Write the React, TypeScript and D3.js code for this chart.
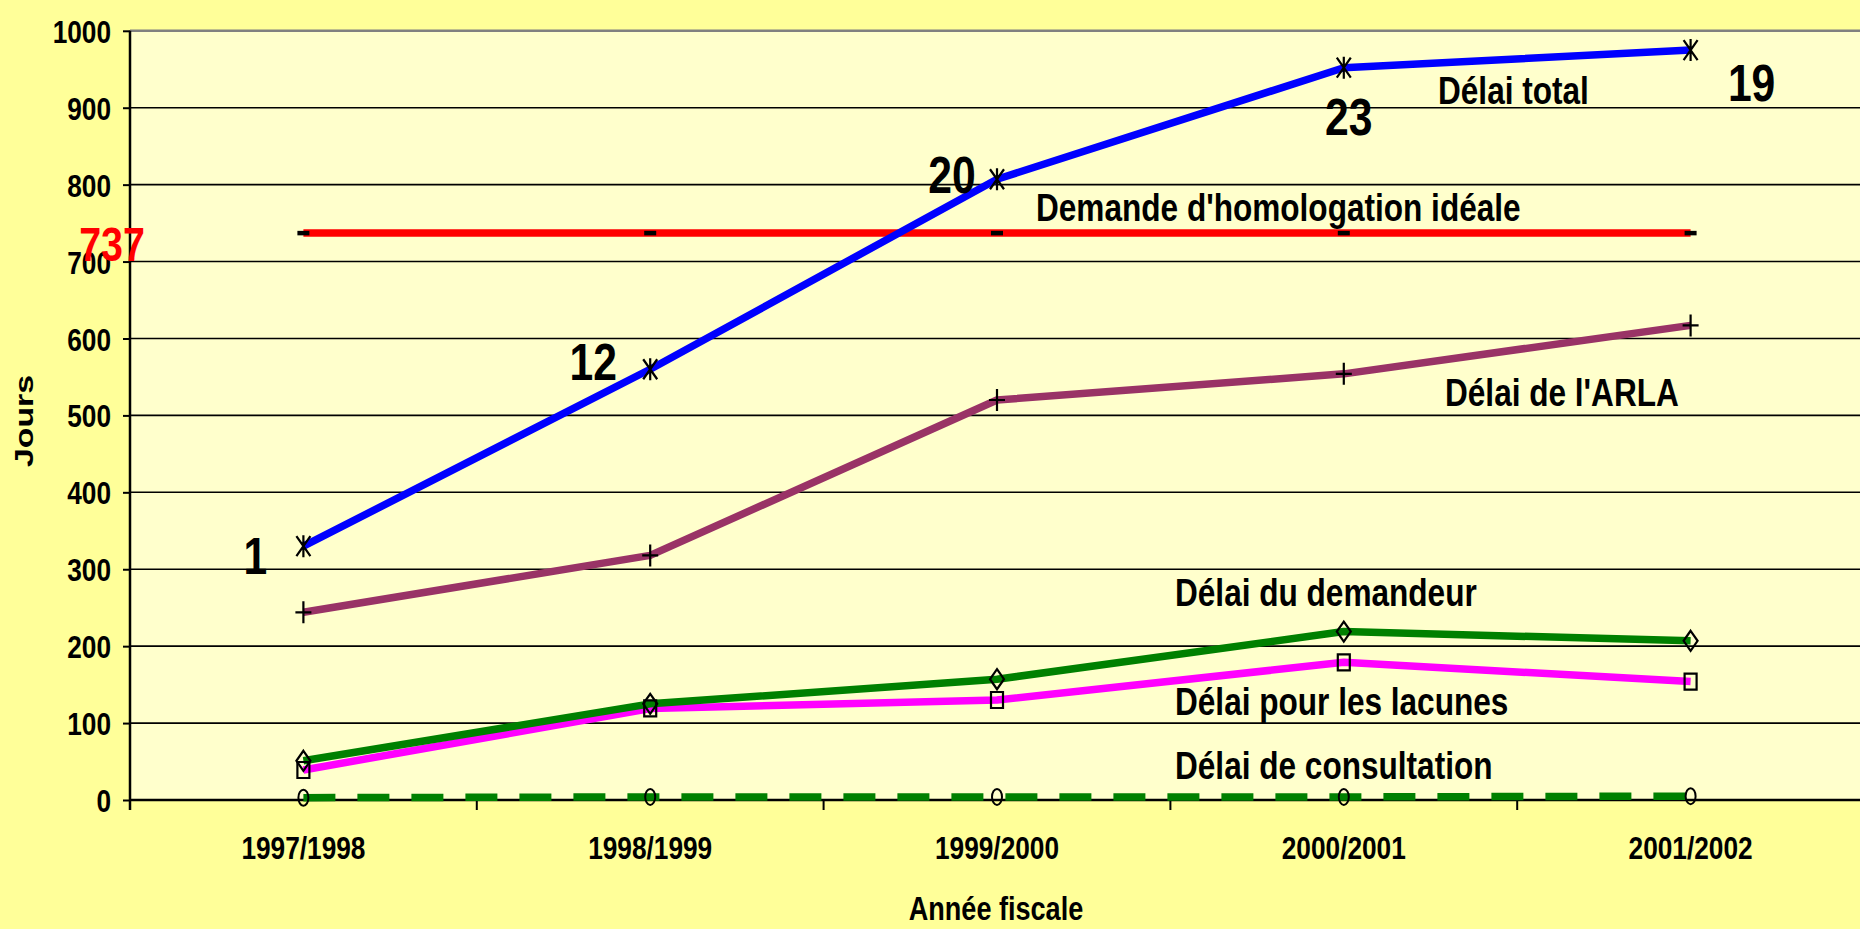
import { useEffect, useRef } from "react";
import * as d3 from "d3";

// fiscal years on the category axis
const categories = ["1997/1998", "1998/1999", "1999/2000", "2000/2001", "2001/2002"];
const yTicks = [0, 100, 200, 300, 400, 500, 600, 700, 800, 900, 1000];

// jours
const delaiTotal = [330, 560, 807, 952, 975];
const ideale = [737, 737, 737, 737, 737];
const delaiArla = [244, 318, 520, 554, 617];
const delaiDemandeur = [51, 125, 157, 219, 207];
const delaiLacunes = [39, 119, 130, 179, 154];
const delaiConsultation = [3, 4, 4, 4, 5];

// counts written next to the total line
const totalCounts = ["1", "12", "20", "23", "19"];
const idealeLabel = "737";

const W = 1860;
const H = 929;
const FONT = "'Liberation Sans', Arial, sans-serif";
const NARROW = 0.82; // no narrow face installed, squeeze the glyphs instead

export default function App() {
  const svgRef = useRef<SVGSVGElement>(null);

  useEffect(() => {
    const svg = d3.select(svgRef.current);
    svg.selectAll("*").remove();

    const left = 130, top = 30.8, bottom = 800;
    const x = d3.scaleBand().domain(categories).range([left, left + 346.8 * 5]).padding(0);
    const y = d3.scaleLinear().domain([0, 1000]).range([bottom, top]);
    const cx = (i: number) => x(categories[i])! + x.bandwidth() / 2;

    svg.append("rect").attr("width", W).attr("height", H).attr("fill", "#ffff99");
    svg.append("rect")
      .attr("x", left).attr("y", top)
      .attr("width", W - left).attr("height", bottom - top)
      .attr("fill", "#ffffcc");

    // grid
    svg.append("g").selectAll("line")
      .data(yTicks.filter((t) => t > 0))
      .join("line")
      .attr("x1", left).attr("x2", W)
      .attr("y1", (d) => y(d)).attr("y2", (d) => y(d))
      .attr("stroke", (d) => (d === 1000 ? "#808080" : "#000"))
      .attr("stroke-width", (d) => (d === 1000 ? 2.5 : 1.6));

    // y axis
    const yAxis = d3.axisLeft(y).tickValues(yTicks).tickFormat(d3.format("d")).tickSize(7).tickPadding(12);
    const gy = svg.append("g").attr("transform", `translate(${left},0)`).call(yAxis);
    gy.select(".domain").remove();
    gy.selectAll("line").attr("stroke", "#000").attr("stroke-width", 2);
    gy.selectAll("text")
      .attr("class", "narrow")
      .attr("font-family", FONT).attr("font-weight", "bold")
      .attr("font-size", 32).attr("fill", "#000").attr("dy", "0.36em");
    svg.append("line")
      .attr("x1", left).attr("x2", left).attr("y1", top).attr("y2", bottom + 10)
      .attr("stroke", "#000").attr("stroke-width", 2.5);

    // x axis
    svg.append("line")
      .attr("x1", left).attr("x2", W).attr("y1", bottom).attr("y2", bottom)
      .attr("stroke", "#000").attr("stroke-width", 2.5);
    svg.append("g").selectAll("line")
      .data(categories.slice(1))
      .join("line")
      .attr("x1", (d) => x(d)!).attr("x2", (d) => x(d)!)
      .attr("y1", bottom).attr("y2", bottom + 10)
      .attr("stroke", "#000").attr("stroke-width", 2);
    svg.append("g").selectAll("text")
      .data(categories)
      .join("text")
      .attr("class", "narrow")
      .attr("x", (d, i) => cx(i)).attr("y", 859)
      .attr("text-anchor", "middle")
      .attr("font-family", FONT).attr("font-weight", "bold").attr("font-size", 32)
      .text((d) => d);

    svg.append("text")
      .attr("class", "narrow")
      .attr("x", 996).attr("y", 920)
      .attr("text-anchor", "middle")
      .attr("font-family", FONT).attr("font-weight", "bold").attr("font-size", 33)
      .text("Année fiscale");
    svg.append("text")
      .attr("transform", "translate(33,421) rotate(-90)")
      .attr("text-anchor", "middle")
      .attr("font-family", FONT)
      .attr("font-weight", "bold").attr("font-size", 25)
      .attr("textLength", 92).attr("lengthAdjust", "spacingAndGlyphs")
      .text("Jours");

    const line = d3.line<number>().x((d, i) => cx(i)).y((d) => y(d));
    const series = [
      { values: delaiConsultation, color: "#008000", dash: "32 22", marker: "circle" },
      { values: delaiLacunes, color: "#ff00ff", dash: null, marker: "square" },
      { values: delaiDemandeur, color: "#008000", dash: null, marker: "diamond" },
      { values: delaiArla, color: "#993366", dash: null, marker: "plus" },
      { values: ideale, color: "#ff0000", dash: null, marker: "dash" },
      { values: delaiTotal, color: "#0000ff", dash: null, marker: "star" },
    ];

    series.forEach((s) => {
      svg.append("path")
        .attr("d", line(s.values))
        .attr("fill", "none")
        .attr("stroke", s.color)
        .attr("stroke-width", 7.5)
        .attr("stroke-dasharray", s.dash)
        .attr("stroke-linejoin", "round");
    });

    const markerPath = (m: string) => {
      switch (m) {
        case "star": return "M0,-11V11M-7,-10L7,10M-7,10L7,-10";
        case "plus": return "M-8,0H8M0,-11V11";
        case "diamond": return "M0,-10L7,0L0,10L-7,0Z";
        case "square": return "M-6,-8H6V8H-6Z";
        case "dash": return "M-6,0H6";
        default: return "";
      }
    };
    series.forEach((s) => {
      const g = svg.append("g");
      if (s.marker === "circle") {
        g.selectAll("ellipse").data(s.values).join("ellipse")
          .attr("cx", (d, i) => cx(i)).attr("cy", (d) => y(d))
          .attr("rx", 5).attr("ry", 8)
          .attr("fill", "none").attr("stroke", "#000").attr("stroke-width", 2);
      } else {
        g.selectAll("path").data(s.values).join("path")
          .attr("transform", (d, i) => `translate(${cx(i)},${y(d)})`)
          .attr("d", markerPath(s.marker))
          .attr("fill", "none").attr("stroke", "#000")
          .attr("stroke-width", s.marker === "dash" ? 4.5 : 2.2);
      }
    });

    // counts beside the total line
    const countOffsets = [[-48, 28], [-57, 11], [-45, 14], [5, 67], [61, 51]];
    svg.append("g").selectAll("text")
      .data(totalCounts)
      .join("text")
      .attr("class", "narrow")
      .attr("x", (d, i) => cx(i) + countOffsets[i][0])
      .attr("y", (d, i) => y(delaiTotal[i]) + countOffsets[i][1])
      .attr("text-anchor", "middle")
      .attr("font-family", FONT).attr("font-weight", "bold").attr("font-size", 52)
      .text((d) => d);

    svg.append("text")
      .attr("class", "narrow")
      .attr("x", 112).attr("y", y(ideale[0]) + 28)
      .attr("text-anchor", "middle")
      .attr("font-family", FONT).attr("font-weight", "bold").attr("font-size", 48)
      .attr("fill", "#ff0000")
      .text(idealeLabel);

    // series names
    const names = [
      { text: "Délai total", x: 1438, y: 104 },
      { text: "Demande d'homologation idéale", x: 1036, y: 221 },
      { text: "Délai de l'ARLA", x: 1445, y: 406 },
      { text: "Délai du demandeur", x: 1175, y: 606 },
      { text: "Délai pour les lacunes", x: 1175, y: 715 },
      { text: "Délai de consultation", x: 1175, y: 779 },
    ];
    svg.append("g").selectAll("text")
      .data(names)
      .join("text")
      .attr("class", "narrow")
      .attr("x", (d) => d.x).attr("y", (d) => d.y)
      .attr("font-family", FONT).attr("font-weight", "bold").attr("font-size", 38.5)
      .text((d) => d.text);

    // condense every narrow text
    svg.selectAll<SVGTextElement, unknown>("text.narrow").each(function () {
      const len = this.getComputedTextLength();
      d3.select(this)
        .attr("textLength", len * NARROW)
        .attr("lengthAdjust", "spacingAndGlyphs");
    });
  }, []);

  return (
    <svg
      ref={svgRef}
      width={W}
      height={H}
      style={{ position: "absolute", left: 0, top: 0, display: "block" }}
    />
  );
}
